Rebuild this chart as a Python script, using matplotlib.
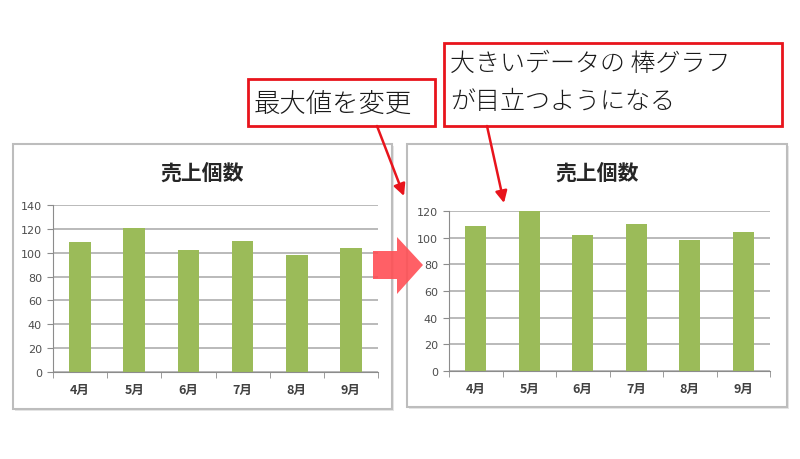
import matplotlib
matplotlib.use('Agg')
import matplotlib.pyplot as plt
from matplotlib.patches import Rectangle, FancyArrowPatch, Polygon

plt.rcParams['font.family'] = ['Noto Sans CJK JP', 'DejaVu Sans']

# データ
months = ['4月', '5月', '6月', '7月', '8月', '9月']
sales = [109, 121, 102, 110, 98, 104]
title = '売上個数'
note1 = '最大値を変更'
note2 = '大きいデータの 棒グラフ\nが目立つようになる'
ymax_before = 140
ymax_after = 120

W, H = 800, 460
fig = plt.figure(figsize=(8, 4.6), dpi=100)


def fx(x):
    return x / W


def fy(y):
    return 1 - y / H


def chart_frame(x0, y0, x1, y1):
    # 影とグラフ枠
    fig.patches.append(Rectangle((fx(x0 + 2), fy(y1 + 2)), fx(x1 - x0), (y1 - y0) / H,
                                 transform=fig.transFigure, facecolor='#e6e6e6',
                                 edgecolor='none', zorder=0))
    fig.patches.append(Rectangle((fx(x0), fy(y1)), fx(x1 - x0), (y1 - y0) / H,
                                 transform=fig.transFigure, facecolor='white',
                                 edgecolor='#bdbdbd', linewidth=1.5, zorder=0.5))


def bar_chart(x0, y0, x1, y1, ymax, title_x):
    ax = fig.add_axes([fx(x0), fy(y1), fx(x1 - x0), (y1 - y0) / H])
    ax.set_zorder(1)
    ax.patch.set_alpha(0)
    pos = range(len(months))
    ax.bar(pos, sales, width=0.4, color='#9bbb59', zorder=2)
    ax.set_xlim(-0.5, len(months) - 0.5)
    ax.set_ylim(0, ymax)
    ax.set_yticks(range(0, ymax + 1, 20))
    ax.yaxis.grid(True, color='#bababa', linewidth=1.4)
    ax.set_axisbelow(True)
    ax.set_xticks(list(pos))
    ax.set_xticklabels(months, fontsize=9, color='#404040', fontweight='bold')
    ax.set_xticks([p - 0.5 for p in range(len(months) + 1)], minor=True)
    ax.tick_params(axis='x', which='major', length=0, pad=8)
    ax.tick_params(axis='x', which='minor', length=4, color='#8c8c8c')
    ax.tick_params(axis='y', length=4, color='#8c8c8c', labelsize=8,
                   labelcolor='#4d4d4d', pad=4)
    for lbl in ax.get_yticklabels():
        lbl.set_family('DejaVu Sans')
    for s in ['top', 'right']:
        ax.spines[s].set_visible(False)
    for s in ['left', 'bottom']:
        ax.spines[s].set_color('#8c8c8c')
    fig.text(fx(title_x), fy(173), title, fontsize=15, fontweight='bold',
             color='#262626', ha='center', va='center')
    return ax


# 左グラフ（変更前）
chart_frame(13, 145, 392, 410)
bar_chart(53, 206, 378, 373, ymax_before, 202)

# 右グラフ（変更後）
chart_frame(407, 145, 787, 408)
bar_chart(449, 212, 770, 372, ymax_after, 597)

# 中央の大きい矢印
arrow_pts = [(373, 252), (397, 252), (397, 238), (423, 266),
             (397, 295), (397, 280), (373, 280)]
fig.patches.append(Polygon([(fx(x), fy(y)) for x, y in arrow_pts], closed=True,
                           transform=fig.transFigure, facecolor='#ff4f55',
                           edgecolor='none', alpha=0.9, zorder=3))

# 注釈ボックス
for (x0, y0, x1, y1) in [(248, 80, 435, 127), (444, 44, 782, 127)]:
    fig.patches.append(Rectangle((fx(x0), fy(y1)), fx(x1 - x0), (y1 - y0) / H,
                                 transform=fig.transFigure, facecolor='white',
                                 edgecolor='#e8141c', linewidth=2, zorder=4))
fig.text(fx(254), fy(104), note1, fontsize=19, color='#1a1a1a',
         fontweight='light', ha='left', va='center', zorder=5)
fig.text(fx(450), fy(83), note2, fontsize=18, color='#1a1a1a',
         fontweight='light', ha='left', va='center', linespacing=1.55, zorder=5)

# 注釈の矢印
for (xa, ya, xb, yb) in [(377, 127, 404, 197), (487, 127, 504, 204)]:
    fig.patches.append(FancyArrowPatch((fx(xa), fy(ya)), (fx(xb), fy(yb)),
                                       transform=fig.transFigure,
                                       arrowstyle='-|>,head_length=7,head_width=3.5',
                                       color='#e8141c', linewidth=1.8,
                                       shrinkA=0, shrinkB=0, zorder=6))

fig.savefig('out.png', dpi=100, facecolor='white')
